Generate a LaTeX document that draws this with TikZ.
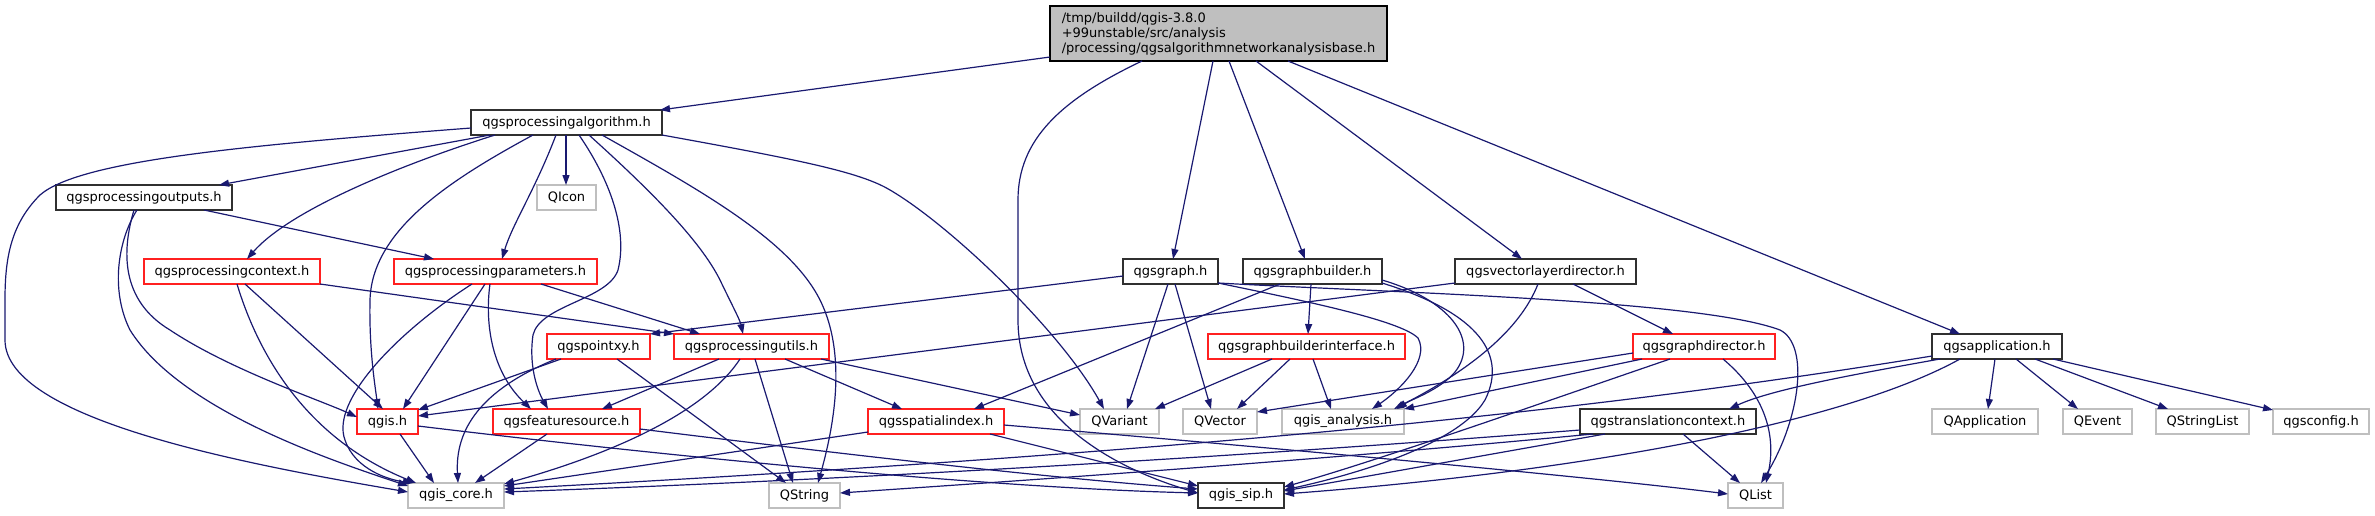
\documentclass[tikz,border=0pt]{standalone}
\usepackage{fontspec}
\setmainfont{DejaVu Sans}
\usetikzlibrary{arrows.meta}
\definecolor{edgec}{HTML}{191970}
\definecolor{gray75}{HTML}{BFBFBF}
\definecolor{redb}{HTML}{FF2020}
\definecolor{blkb}{HTML}{303030}
\tikzset{
  box/.style={draw, line width=1.3pt, inner sep=0pt, outer sep=0pt, minimum height=25pt,
    anchor=north west, font=\fontsize{13}{15}\selectfont, text=black, fill=white},
  blk/.style={box, draw=blkb},
  rbox/.style={box, draw=redb},
  gbox/.style={box, draw=gray75},
  e/.style={draw=edgec, line width=1.2pt, -{Triangle[length=10pt,width=7pt]}},
}
\begin{document}
\begin{tikzpicture}[x=1pt,y=-1pt]
\useasboundingbox (0,0) rectangle (2375,515);
% ---------- nodes ----------
\node[box, fill=gray75, draw=black, minimum width=337pt, minimum height=55pt, align=left] (main) at (1050,6)
  {/tmp/buildd/qgis-3.8.0\\+99unstable/src/analysis\\/processing/qgsalgorithmnetworkanalysisbase.h};
\node[blk, minimum width=191pt] (algo) at (471,110) {qgsprocessingalgorithm.h};
\node[blk, minimum width=176pt] (outputs) at (56,185) {qgsprocessingoutputs.h};
\node[gbox, minimum width=59pt] (qicon) at (537,185) {QIcon};
\node[rbox, minimum width=176pt] (context) at (144,259) {qgsprocessingcontext.h};
\node[rbox, minimum width=203pt] (params) at (394,259) {qgsprocessingparameters.h};
\node[blk, minimum width=95pt] (graph) at (1123,259) {qgsgraph.h};
\node[blk, minimum width=139pt] (gbuilder) at (1243,259) {qgsgraphbuilder.h};
\node[blk, minimum width=181pt] (vld) at (1455,259) {qgsvectorlayerdirector.h};
\node[rbox, minimum width=103pt] (pointxy) at (547,334) {qgspointxy.h};
\node[rbox, minimum width=155pt] (utils) at (674,334) {qgsprocessingutils.h};
\node[rbox, minimum width=197pt] (gbi) at (1208,334) {qgsgraphbuilderinterface.h};
\node[rbox, minimum width=142pt] (gdir) at (1633,334) {qgsgraphdirector.h};
\node[blk, minimum width=130pt] (app) at (1932,334) {qgsapplication.h};
\node[rbox, minimum width=61pt] (qgis) at (357,409) {qgis.h};
\node[rbox, minimum width=147pt] (fsource) at (493,409) {qgsfeaturesource.h};
\node[rbox, minimum width=136pt] (sindex) at (868,409) {qgsspatialindex.h};
\node[gbox, minimum width=79pt] (qvariant) at (1080,409) {QVariant};
\node[gbox, minimum width=74pt] (qvector) at (1183,409) {QVector};
\node[gbox, minimum width=122pt] (analysis) at (1282,409) {qgis\_analysis.h};
\node[blk, minimum width=176pt] (tctx) at (1580,409) {qgstranslationcontext.h};
\node[gbox, minimum width=106pt] (qapp) at (1932,409) {QApplication};
\node[gbox, minimum width=69pt] (qevent) at (2063,409) {QEvent};
\node[gbox, minimum width=93pt] (qstrlist) at (2156,409) {QStringList};
\node[gbox, minimum width=96pt] (qgsconfig) at (2273,409) {qgsconfig.h};
\node[gbox, minimum width=96pt] (core) at (408,483) {qgis\_core.h};
\node[gbox, minimum width=71pt] (qstring) at (769,483) {QString};
\node[blk, minimum width=86pt] (sip) at (1198,483) {qgis\_sip.h};
\node[gbox, minimum width=55pt] (qlist) at (1728,483) {QList};
% ---------- edges ----------
% main
\draw[e] ([yshift=-51pt]main.north west) -- ([xshift=189pt]algo.north west);
\draw[e] ([xshift=92pt]main.south west) .. controls (1060,100) and (1018,140) .. (1018,200) -- (1018,320)
  .. controls (1018,420) and (1120,470) .. ([yshift=-10pt]sip.north west);
\draw[e] ([xshift=163pt]main.south west) -- ([xshift=50pt]graph.north west);
\draw[e] ([xshift=179pt]main.south west) -- ([xshift=62pt]gbuilder.north west);
\draw[e] ([xshift=206pt]main.south west) -- ([xshift=67pt]vld.north west);
\draw[e] ([xshift=238pt]main.south west) -- ([xshift=28pt]app.north west);
% algo
\draw[e] ([yshift=-18pt]algo.north west) .. controls (250,145) and (80,160) .. (40,195)
  .. controls (10,225) and (5,260) .. (5,300) -- (5,340) .. controls (5,420) and (250,465) .. ([yshift=-9pt]core.north west);
\draw[e] ([xshift=19pt]algo.south west) -- ([xshift=163pt]outputs.north west);
\draw[e] ([xshift=24pt]algo.south west) .. controls (400,165) and (290,210) .. ([xshift=103pt]context.north west);
\draw[e] ([xshift=62pt]algo.south west) .. controls (450,180) and (372,230) .. (370,300)
  .. controls (369,350) and (375,385) .. ([xshift=21pt]qgis.north west);
\draw[e] ([xshift=85pt]algo.south west) .. controls (535,190) and (512,225) .. ([xshift=108pt]params.north west);
\draw[e] ([xshift=95pt]algo.south west) -- ([xshift=29pt]qicon.north west);
\draw[e] ([xshift=108pt]algo.south west) .. controls (610,180) and (628,230) .. (618,270)
  .. controls (608,300) and (540,305) .. (533,335) .. controls (528,370) and (540,395) .. ([xshift=55pt]fsource.north west);
\draw[e] ([xshift=118pt]algo.south west) .. controls (650,190) and (700,240) .. (720,280)
  .. controls (732,305) and (740,320) .. ([xshift=69pt]utils.north west);
\draw[e] ([xshift=131pt]algo.south west) .. controls (700,190) and (790,240) .. (820,300)
  .. controls (850,360) and (830,440) .. ([xshift=49pt]qstring.north west);
\draw[e] (algo.south east) .. controls (800,160) and (860,172) .. (890,190)
  .. controls (950,225) and (1060,330) .. ([xshift=24pt]qvariant.north west);
% outputs
\draw[e] ([xshift=81pt]outputs.south west) .. controls (118,240) and (110,290) .. (130,330)
  .. controls (180,410) and (330,460) .. ([yshift=-3pt]core.north west);
\draw[e] ([xshift=78pt]outputs.south west) .. controls (122,250) and (120,300) .. (170,330)
  .. controls (230,370) and (320,400) .. ([yshift=-8pt]qgis.north west);
\draw[e] ([xshift=148pt]outputs.south west) -- ([xshift=40pt]params.north west);
% context
\draw[e] (context.south east) -- (utils.north west);
\draw[e] ([xshift=101pt]context.south west) -- ([xshift=26pt]qgis.north west);
\draw[e] ([xshift=93pt]context.south west) .. controls (260,360) and (310,440) .. ([xshift=8pt]core.north west);
% params
\draw[e] ([xshift=78pt]params.south west) .. controls (400,330) and (330,400) .. (345,440)
  .. controls (355,470) and (390,480) .. ([xshift=5pt]core.north west);
\draw[e] ([xshift=91pt]params.south west) -- ([xshift=46pt]qgis.north west);
\draw[e] ([xshift=96pt]params.south west) .. controls (485,320) and (490,370) .. ([xshift=38pt]fsource.north west);
\draw[e] ([xshift=147pt]params.south west) -- ([xshift=26pt]utils.north west);
% qgsgraph
\draw[e] ([yshift=-17pt]graph.north west) -- (pointxy.north east);
\draw[e] ([xshift=45pt]graph.south west) -- ([xshift=47pt]qvariant.north west);
\draw[e] ([xshift=52pt]graph.south west) -- ([xshift=28pt]qvector.north west);
\draw[e] ([yshift=-24pt]graph.north east) .. controls (1300,300) and (1400,320) .. (1418,338)
  .. controls (1430,360) and (1400,390) .. ([xshift=90pt]analysis.north west);
\draw[e] ([yshift=-24pt]graph.north east) .. controls (1400,293) and (1700,300) .. (1780,330)
  .. controls (1810,345) and (1800,420) .. ([xshift=33pt]qlist.north west);
% graphbuilder
\draw[e] ([xshift=37pt]gbuilder.south west) -- ([xshift=106pt]sindex.north west);
\draw[e] ([xshift=68pt]gbuilder.south west) -- ([xshift=100pt]gbi.north west);
\draw[e] ([yshift=-21pt]gbuilder.north east) .. controls (1450,300) and (1480,340) .. (1455,372)
  .. controls (1440,390) and (1410,400) .. ([xshift=115pt]analysis.north west);
\draw[e] ([yshift=-24pt]gbuilder.north east) .. controls (1470,310) and (1510,350) .. (1485,400)
  .. controls (1455,450) and (1330,480) .. ([yshift=-7pt]sip.north east);
% vectorlayerdirector
\draw[e] ([yshift=-24pt]vld.north west) -- ([yshift=-7pt]qgis.north east);
\draw[e] ([xshift=83pt]vld.south west) .. controls (1520,330) and (1470,370) .. ([xshift=112pt]analysis.north west);
\draw[e] ([xshift=118pt]vld.south west) -- ([xshift=40pt]gdir.north west);
% pointxy
\draw[e] ([xshift=14pt]pointxy.south west) -- ([yshift=-1pt]qgis.north east);
\draw[e] ([xshift=9pt]pointxy.south west) .. controls (480,390) and (455,430) .. ([xshift=50pt]core.north west);
\draw[e] ([xshift=70pt]pointxy.south west) -- ([xshift=17pt]qstring.north west);
% utils
\draw[e] ([xshift=45pt]utils.south west) -- ([xshift=109pt]fsource.north west);
\draw[e] ([xshift=66pt]utils.south west) .. controls (700,420) and (590,460) .. ([yshift=-1pt]core.north east);
\draw[e] ([xshift=81pt]utils.south west) -- ([xshift=24pt]qstring.north west);
\draw[e] ([xshift=111pt]utils.south west) -- ([xshift=34pt]sindex.north west);
\draw[e] ([xshift=147pt]utils.south west) -- ([yshift=-6pt]qvariant.north west);
% graphbuilderinterface
\draw[e] ([xshift=64pt]gbi.south west) -- ([xshift=75pt]qvariant.north west);
\draw[e] ([xshift=82pt]gbi.south west) -- ([xshift=54pt]qvector.north west);
\draw[e] ([xshift=105pt]gbi.south west) -- ([xshift=49pt]analysis.north west);
% graphdirector
\draw[e] ([yshift=-19pt]gdir.north west) -- ([yshift=-3pt]qvector.north east);
\draw[e] ([xshift=9pt]gdir.south west) -- (analysis.north east);
\draw[e] ([xshift=37pt]gdir.south west) .. controls (1550,400) and (1380,460) .. ([yshift=-4pt]sip.north east);
\draw[e] ([xshift=90pt]gdir.south west) .. controls (1760,390) and (1778,430) .. ([xshift=38pt]qlist.north west);
% application
\draw[e] ([xshift=8pt]app.south west) .. controls (1850,375) and (1770,390) .. ([xshift=149pt]tctx.north west);
\draw[e] ([yshift=-22pt]app.north west) .. controls (1600,410) and (1200,452) .. ([yshift=-6pt]core.north east);
\draw[e] ([xshift=28pt]app.south west) .. controls (1850,420) and (1600,470) .. ([yshift=-11pt]sip.north east);
\draw[e] ([xshift=63pt]app.south west) -- ([xshift=56pt]qapp.north west);
\draw[e] ([xshift=84pt]app.south west) -- ([xshift=15pt]qevent.north west);
\draw[e] ([xshift=103pt]app.south west) -- ([xshift=12pt]qstrlist.north west);
\draw[e] ([xshift=121pt]app.south west) -- ([yshift=-1pt]qgsconfig.north west);
% translationcontext
\draw[e] ([yshift=-21pt]tctx.north west) .. controls (1300,452) and (900,478) .. ([yshift=-9pt]core.north east);
\draw[e] ([xshift=13pt]tctx.south west) .. controls (1300,462) and (1000,482) .. ([yshift=-10pt]qstring.north east);
\draw[e] ([xshift=25pt]tctx.south west) -- ([yshift=-8pt]sip.north east);
\draw[e] ([xshift=103pt]tctx.south west) -- ([xshift=12pt]qlist.north west);
% qgis.h
\draw[e] ([xshift=43pt]qgis.south west) -- ([xshift=26pt]core.north west);
\draw[e] ([yshift=-17pt]qgis.north east) .. controls (700,460) and (1000,488) .. ([yshift=-10pt]sip.north west);
% featuresource
\draw[e] ([xshift=54pt]fsource.south west) -- ([xshift=67pt]core.north west);
\draw[e] ([yshift=-20pt]fsource.north east) .. controls (850,455) and (1050,478) .. ([yshift=-6pt]sip.north west);
% spatialindex
\draw[e] ([yshift=-23pt]sindex.north west) -- ([yshift=-3pt]core.north east);
\draw[e] ([xshift=122pt]sindex.south west) -- ([yshift=-3pt]sip.north west);
\draw[e] ([yshift=-16pt]sindex.north east) .. controls (1300,450) and (1600,478) .. ([yshift=-11pt]qlist.north west);
\end{tikzpicture}
\end{document}
